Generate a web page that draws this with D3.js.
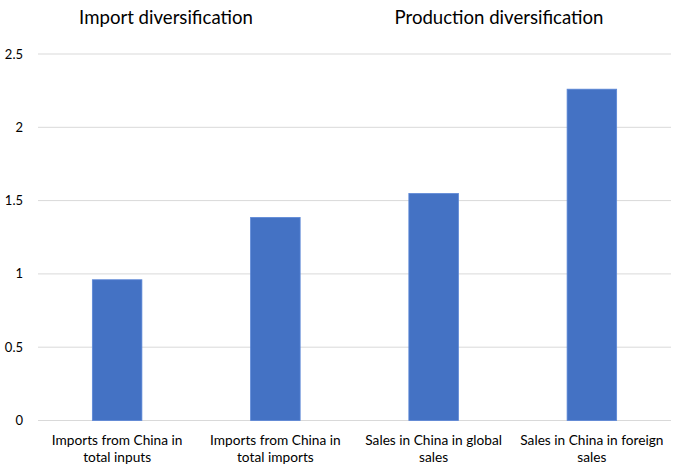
<!DOCTYPE html>
<html>
<head>
<meta charset="utf-8">
<script src="https://cdn.jsdelivr.net/npm/d3@7"></script>
<style>
  body { margin: 0; background: #fff; }
  text { font-family: Lato, "Open Sans", sans-serif; fill: #000; }
</style>
</head>
<body>
<div id="chart"></div>
<script>
// Data
const categories = [
  "Imports from China in total inputs",
  "Imports from China in total imports",
  "Sales in China in global sales",
  "Sales in China in foreign sales"
];
const labelLines = [
  ["Imports from China in", "total inputs"],
  ["Imports from China in", "total imports"],
  ["Sales in China in global", "sales"],
  ["Sales in China in foreign", "sales"]
];
const values = [0.96, 1.385, 1.548, 2.26];
const yTicks = [0, 0.5, 1, 1.5, 2, 2.5];
const groupTitles = ["Import diversification", "Production diversification"];

const width = 680;
const height = 473;
const margin = { top: 54, right: 9, bottom: 52.5, left: 38 };

const svg = d3.select("#chart")
  .append("svg")
  .attr("width", width)
  .attr("height", height);

const x = d3.scaleBand()
  .domain(categories)
  .range([margin.left, width - margin.right])
  .paddingInner(0.687)
  .paddingOuter(0.687 / 2);

const y = d3.scaleLinear()
  .domain([0, 2.5])
  .range([height - margin.bottom, margin.top]);

// gridlines
svg.append("g")
  .selectAll("line")
  .data(yTicks)
  .join("line")
  .attr("x1", margin.left)
  .attr("x2", width - margin.right)
  .attr("y1", d => y(d))
  .attr("y2", d => y(d))
  .attr("stroke", "#d9d9d9")
  .attr("stroke-width", 1);

// y axis labels
svg.append("g")
  .selectAll("text")
  .data(yTicks)
  .join("text")
  .attr("x", 23)
  .attr("y", d => y(d))
  .attr("dy", "0.35em")
  .attr("text-anchor", "end")
  .style("font-size", "13px")
  .text(d => d);

// bars
svg.append("g")
  .selectAll("rect")
  .data(values)
  .join("rect")
  .attr("x", (d, i) => x(categories[i]))
  .attr("y", d => y(d))
  .attr("width", x.bandwidth())
  .attr("height", d => y(0) - y(d))
  .attr("fill", "#4472c4")
  .attr("stroke", "#5a86d6")
  .attr("stroke-width", 0.8);

// x labels, two lines each
const xl = svg.append("g")
  .selectAll("text")
  .data(labelLines)
  .join("text")
  .attr("text-anchor", "middle")
  .style("font-size", "13.7px")
  .attr("transform", (d, i) => `translate(${x(categories[i]) + x.bandwidth() / 2},0)`);

xl.selectAll("tspan")
  .data(d => d)
  .join("tspan")
  .attr("x", 0)
  .attr("y", (d, j) => 445 + j * 16.8)
  .text(d => d);

// group titles
svg.append("g")
  .selectAll("text")
  .data(groupTitles)
  .join("text")
  .attr("x", (d, i) => i === 0 ? 166 : 499)
  .attr("y", 24)
  .attr("text-anchor", "middle")
  .style("font-size", "18.6px")
  .text(d => d);
</script>
</body>
</html>
